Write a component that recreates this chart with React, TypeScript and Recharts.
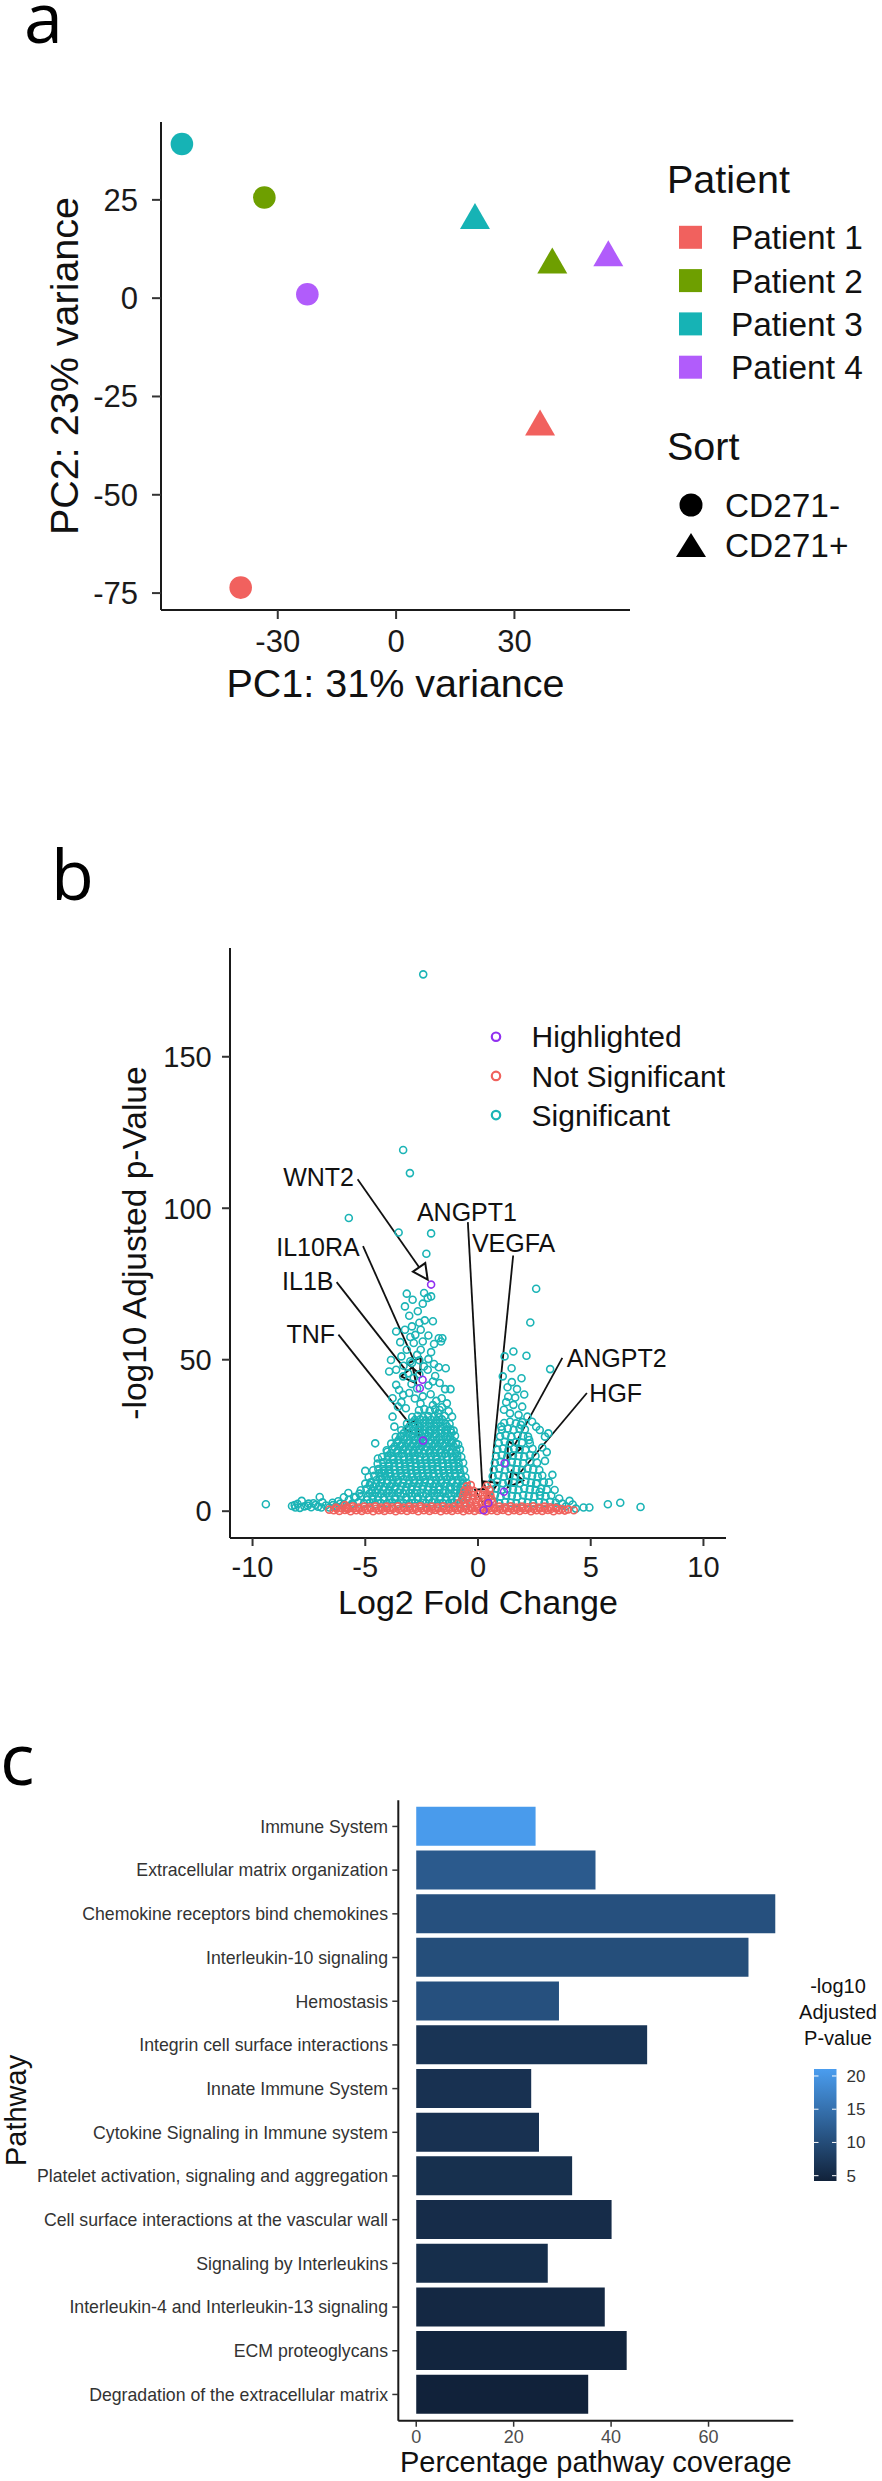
import React from "react";
import {
  ScatterChart,
  Scatter,
  BarChart,
  Bar,
  Cell,
  XAxis,
  YAxis,
  Legend,
  ReferenceLine,
  ReferenceDot,
} from "recharts";

const FONT = '"Liberation Sans", Arial, sans-serif';
const LETTER_FONT = '"Open Sans", sans-serif';

// ---------- a: PCA ----------
const patients = ["Patient 1", "Patient 2", "Patient 3", "Patient 4"];
const patientColors = ["#F1615E", "#6E9F00", "#16B3B5", "#B15CFB"];
const sorts = ["CD271-", "CD271+"];
const pc1Neg = [-39.4, -33.4, -54.3, -22.5];
const pc2Neg = [-73.6, 25.6, 39.2, 1.0];
const pc1Pos = [36.5, 39.6, 20.0, 53.8];
const pc2Pos = [-32.7, 8.5, 19.8, 10.3];
const pcaXTicks = [-30, 0, 30];
const pcaYTicks = [-75, -50, -25, 0, 25];

// ---------- b: volcano ----------
const volcanoXTicks = [-10, -5, 0, 5, 10];
const volcanoYTicks = [0, 50, 100, 150];
const groups = ["Highlighted", "Not Significant", "Significant"];
const groupColors = ["#9130F0", "#F0625D", "#1BB4B6"];

// significant genes, sparse ones (log2FC, -log10 padj)
const sigSparse = [
  [-2.43, 177.2], [-3.32, 119.2], [-3.02, 111.6], [-5.73, 96.8], [-3.52, 92.0], [-2.08, 91.7], [-2.29, 85.0],
  [-3.16, 71.8], [-2.39, 72.0], [-2.08, 70.9], [-2.23, 70.4], [-3.24, 67.6], [-2.67, 66.0], [-2.36, 63.0],
  [-2.0, 62.7], [-3.63, 59.3], [-3.24, 59.9], [-2.93, 61.0], [-2.54, 59.9], [-2.78, 58.2], [-1.74, 57.1],
  [-1.58, 57.1], [-1.64, 56.0], [-2.54, 53.3], [-2.08, 52.5], [-3.16, 53.3], [-3.4, 51.1], [-3.86, 49.9],
  [-2.7, 51.6], [-2.93, 48.9], [-1.74, 47.5], [-1.43, 47.2], [-3.63, 46.7], [-3.94, 46.1], [-3.32, 44.5],
  [-2.23, 46.7], [-2.0, 42.8], [-1.46, 40.3], [-1.22, 40.3], [-3.63, 41.7], [-3.32, 38.4], [-3.79, 37.3],
  [-1.61, 37.3], [-1.38, 35.6], [-1.15, 31.2], [-1.77, 32.3], [-3.79, 31.2], [-3.55, 34.5], [-3.71, 27.9],
  [-3.44, 24.6], [-3.1, 45.5], [-2.85, 44.0], [-2.6, 45.2], [-2.4, 47.8], [-2.95, 42.0], [-2.7, 40.5],
  [-2.2, 41.5], [-1.9, 44.6], [-1.7, 42.3], [-3.5, 40.0], [-3.05, 39.0], [-2.8, 37.2], [-2.45, 37.9],
  [-2.1, 38.6], [-1.85, 36.4], [-3.4, 36.0], [-3.2, 34.0], [-2.55, 35.5], [-2.0, 35.0], [-1.6, 34.3],
  [-1.3, 33.0], [-3.0, 49.5], [-2.6, 49.8], [-2.2, 50.2], [-1.95, 48.6], [-3.3, 48.0], [-2.85, 55.5],
  [-2.45, 56.0], [-3.0, 57.5], [-2.2, 58.0], [-1.95, 55.2], [-3.45, 55.8], [-2.6, 62.2], [-3.05, 64.5],
  [-2.45, 68.5], [-2.9, 69.8],
  [-4.56, 22.4], [-4.02, 19.6], [-4.44, 17.4], [-5.0, 13.3], [-4.28, 12.7], [-3.94, 12.7], [-4.8, 8.6],
  [-5.26, 5.8], [-5.49, 4.7], [-5.73, 3.8], [-6.11, 2.5], [-6.43, 2.0], [-7.02, 4.7], [-7.51, 2.5],
  [-7.82, 3.4], [-8.13, 2.0], [-9.41, 2.3], [-8.25, 1.7], [-8.0, 2.4], [-7.7, 1.6], [-7.4, 1.3], [-7.2, 2.1],
  [-6.95, 1.2], [-6.75, 1.9], [-6.6, 1.2], [-6.3, 1.6], [-6.0, 1.9], [-5.85, 1.1], [-5.6, 2.4], [-7.9, 1.1],
  [-7.55, 1.8], [-6.9, 2.9], [-6.45, 2.8], [-8.1, 1.2], [-7.3, 2.6], [-7.1, 1.5], [-6.2, 3.3], [-5.95, 4.6],
  [-5.75, 6.0],
  [1.18, 51.1], [1.57, 52.7], [2.15, 51.3], [3.2, 46.9], [1.49, 47.2], [1.93, 43.9], [1.31, 40.9], [1.73, 40.3],
  [1.34, 37.8], [1.57, 35.1], [1.96, 34.5], [1.42, 32.3], [1.8, 31.8], [2.19, 31.2], [2.58, 27.9], [2.74, 26.8],
  [2.97, 24.6], [3.12, 25.7], [1.03, 27.9], [2.27, 23.5], [2.97, 16.6], [2.58, 9.1], [2.74, 6.4], [2.58, 73.4],
  [2.32, 62.3], [1.1, 44.5], [1.5, 42.6], [1.25, 36.0], [1.65, 37.5], [2.05, 38.5], [1.15, 33.5], [2.4, 29.5],
  [1.9, 28.5], [2.85, 21.0], [3.05, 19.5], [3.3, 12.0], [3.15, 9.5], [3.4, 7.0],
  [4.06, 3.4], [4.34, 0.85], [4.68, 1.2], [4.94, 1.2], [5.76, 2.3], [6.31, 2.8], [7.21, 1.4], [3.51, 1.4],
  [3.74, 2.5], [3.9, 1.6], [4.2, 2.2], [3.6, 4.2],
];

// dense mass of down-regulated significant genes
const sigLeftMass = [
  [-5.55, 2.4], [-5.3, 2.9], [-5.06, 2.5], [-4.8, 2.8], [-4.57, 2.3], [-4.3, 2.7], [-4.04, 2.5], [-3.8, 2.9],
  [-3.56, 2.4], [-3.3, 2.7], [-3.05, 2.5], [-2.8, 2.8], [-2.56, 2.3], [-2.3, 2.6], [-2.04, 2.9], [-1.8, 2.4],
  [-1.55, 2.7], [-1.3, 2.5], [-1.06, 2.8], [-0.8, 2.4], [-0.55, 2.7],
  [-5.42, 4.6], [-5.17, 5.0], [-4.92, 4.7], [-4.68, 5.1], [-4.43, 4.8], [-4.18, 4.5], [-3.93, 5.0], [-3.68, 4.7],
  [-3.43, 5.1], [-3.18, 4.6], [-2.93, 4.9], [-2.68, 4.7], [-2.43, 5.0], [-2.18, 4.6], [-1.93, 5.1], [-1.68, 4.8],
  [-1.43, 4.6], [-1.18, 5.0], [-0.93, 4.7], [-0.68, 5.1], [-0.46, 4.8],
  [-5.2, 6.9], [-4.95, 7.3], [-4.7, 6.8], [-4.45, 7.2], [-4.2, 7.0], [-3.95, 6.8], [-3.7, 7.3], [-3.45, 7.0],
  [-3.2, 6.8], [-2.95, 7.2], [-2.7, 6.9], [-2.45, 7.3], [-2.2, 7.0], [-1.95, 6.8], [-1.7, 7.2], [-1.45, 6.9],
  [-1.2, 7.3], [-0.95, 7.0], [-0.7, 6.8], [-0.47, 7.1],
  [-5.0, 9.1], [-4.76, 9.5], [-4.52, 9.0], [-4.28, 9.4], [-4.04, 9.2], [-3.8, 9.0], [-3.56, 9.5], [-3.32, 9.2],
  [-3.08, 9.0], [-2.84, 9.4], [-2.6, 9.1], [-2.36, 9.5], [-2.12, 9.2], [-1.88, 9.0], [-1.64, 9.4], [-1.4, 9.1],
  [-1.16, 9.5], [-0.92, 9.2], [-0.68, 9.0], [-0.5, 9.4],
  [-4.85, 11.3], [-4.6, 11.7], [-4.36, 11.2], [-4.12, 11.6], [-3.88, 11.4], [-3.64, 11.2], [-3.4, 11.7],
  [-3.16, 11.4], [-2.92, 11.2], [-2.68, 11.6], [-2.44, 11.3], [-2.2, 11.7], [-1.96, 11.4], [-1.72, 11.2],
  [-1.48, 11.6], [-1.24, 11.3], [-1.0, 11.7], [-0.76, 11.4], [-0.56, 11.2],
  [-4.65, 13.5], [-4.42, 13.9], [-4.18, 13.4], [-3.94, 13.8], [-3.7, 13.6], [-3.46, 13.4], [-3.22, 13.9],
  [-2.98, 13.6], [-2.74, 13.4], [-2.5, 13.8], [-2.26, 13.5], [-2.02, 13.9], [-1.78, 13.6], [-1.54, 13.4],
  [-1.3, 13.8], [-1.06, 13.5], [-0.82, 13.9], [-0.62, 13.6],
  [-4.45, 15.7], [-4.2, 16.1], [-3.96, 15.6], [-3.72, 16.0], [-3.48, 15.8], [-3.24, 15.6], [-3.0, 16.1],
  [-2.76, 15.8], [-2.52, 15.6], [-2.28, 16.0], [-2.04, 15.7], [-1.8, 16.1], [-1.56, 15.8], [-1.32, 15.6],
  [-1.08, 16.0], [-0.86, 15.7], [-0.66, 16.0],
  [-4.25, 17.9], [-4.0, 18.3], [-3.76, 17.8], [-3.52, 18.2], [-3.28, 18.0], [-3.04, 17.8], [-2.8, 18.3],
  [-2.56, 18.0], [-2.32, 17.8], [-2.08, 18.2], [-1.84, 17.9], [-1.6, 18.3], [-1.36, 18.0], [-1.12, 17.8],
  [-0.92, 18.2], [-0.74, 17.9],
  [-4.05, 20.1], [-3.8, 20.5], [-3.56, 20.0], [-3.32, 20.4], [-3.08, 20.2], [-2.84, 20.0], [-2.6, 20.5],
  [-2.36, 20.2], [-2.12, 20.0], [-1.88, 20.4], [-1.64, 20.1], [-1.4, 20.5], [-1.16, 20.2], [-0.96, 20.0],
  [-0.8, 20.4],
  [-3.85, 22.3], [-3.6, 22.7], [-3.36, 22.2], [-3.12, 22.6], [-2.88, 22.4], [-2.64, 22.2], [-2.4, 22.7],
  [-2.16, 22.4], [-1.92, 22.2], [-1.68, 22.6], [-1.44, 22.3], [-1.2, 22.7], [-0.98, 22.4], [-0.88, 22.0],
  [-3.65, 24.5], [-3.4, 24.9], [-3.16, 24.4], [-2.92, 24.8], [-2.68, 24.6], [-2.44, 24.4], [-2.2, 24.9],
  [-1.96, 24.6], [-1.72, 24.4], [-1.48, 24.8], [-1.24, 24.5], [-1.02, 24.9],
  [-3.4, 26.7], [-3.15, 27.1], [-2.9, 26.6], [-2.66, 27.0], [-2.42, 26.8], [-2.18, 26.6], [-1.94, 27.1],
  [-1.7, 26.8], [-1.46, 26.6], [-1.22, 27.0], [-1.08, 26.6],
  [-3.15, 28.9], [-2.9, 29.3], [-2.66, 28.8], [-2.42, 29.2], [-2.18, 29.0], [-1.94, 28.8], [-1.7, 29.3],
  [-1.46, 29.0], [-1.26, 28.8],
  [-2.92, 31.1], [-2.68, 31.5], [-2.44, 31.0], [-2.2, 31.4], [-1.96, 31.2], [-1.72, 31.0], [-1.48, 31.4],
  [-2.62, 33.3], [-2.38, 33.7], [-2.14, 33.2], [-1.9, 33.6], [-1.7, 33.4],
];

// the solid core of the down-regulated mass (sits between the rows above)
const sigLeftCore = [
  [-4.92, 3.7], [-4.67, 3.9], [-4.43, 3.6], [-4.18, 3.8], [-3.93, 3.7], [-3.68, 3.9], [-3.43, 3.6], [-3.18, 3.8],
  [-2.93, 3.7], [-2.68, 3.9], [-2.43, 3.6], [-2.18, 3.8], [-1.93, 3.7], [-1.68, 3.9], [-1.43, 3.6], [-1.18, 3.8],
  [-0.93, 3.7], [-0.68, 3.9],
  [-4.8, 5.9], [-4.55, 6.1], [-4.3, 5.8], [-4.05, 6.0], [-3.8, 5.9], [-3.55, 6.1], [-3.3, 5.8], [-3.05, 6.0],
  [-2.8, 5.9], [-2.55, 6.1], [-2.3, 5.8], [-2.05, 6.0], [-1.8, 5.9], [-1.55, 6.1], [-1.3, 5.8], [-1.05, 6.0],
  [-0.8, 5.9], [-0.58, 6.1],
  [-4.62, 8.1], [-4.38, 8.3], [-4.14, 8.0], [-3.9, 8.2], [-3.66, 8.1], [-3.42, 8.3], [-3.18, 8.0], [-2.94, 8.2],
  [-2.7, 8.1], [-2.46, 8.3], [-2.22, 8.0], [-1.98, 8.2], [-1.74, 8.1], [-1.5, 8.3], [-1.26, 8.0], [-1.02, 8.2],
  [-0.78, 8.1], [-0.6, 8.3],
  [-4.5, 10.3], [-4.26, 10.5], [-4.02, 10.2], [-3.78, 10.4], [-3.54, 10.3], [-3.3, 10.5], [-3.06, 10.2],
  [-2.82, 10.4], [-2.58, 10.3], [-2.34, 10.5], [-2.1, 10.2], [-1.86, 10.4], [-1.62, 10.3], [-1.38, 10.5],
  [-1.14, 10.2], [-0.9, 10.4], [-0.68, 10.3],
  [-4.38, 12.5], [-4.14, 12.7], [-3.9, 12.4], [-3.66, 12.6], [-3.42, 12.5], [-3.18, 12.7], [-2.94, 12.4],
  [-2.7, 12.6], [-2.46, 12.5], [-2.22, 12.7], [-1.98, 12.4], [-1.74, 12.6], [-1.5, 12.5], [-1.26, 12.7],
  [-1.02, 12.4], [-0.78, 12.6],
  [-4.2, 14.7], [-3.96, 14.9], [-3.72, 14.6], [-3.48, 14.8], [-3.24, 14.7], [-3.0, 14.9], [-2.76, 14.6],
  [-2.52, 14.8], [-2.28, 14.7], [-2.04, 14.9], [-1.8, 14.6], [-1.56, 14.8], [-1.32, 14.7], [-1.08, 14.9],
  [-0.86, 14.6],
  [-4.02, 16.9], [-3.78, 17.1], [-3.54, 16.8], [-3.3, 17.0], [-3.06, 16.9], [-2.82, 17.1], [-2.58, 16.8],
  [-2.34, 17.0], [-2.1, 16.9], [-1.86, 17.1], [-1.62, 16.8], [-1.38, 17.0], [-1.14, 16.9], [-0.92, 17.1],
  [-3.86, 19.1], [-3.62, 19.3], [-3.38, 19.0], [-3.14, 19.2], [-2.9, 19.1], [-2.66, 19.3], [-2.42, 19.0],
  [-2.18, 19.2], [-1.94, 19.1], [-1.7, 19.3], [-1.46, 19.0], [-1.22, 19.2], [-1.0, 19.1],
  [-3.7, 21.3], [-3.46, 21.5], [-3.22, 21.2], [-2.98, 21.4], [-2.74, 21.3], [-2.5, 21.5], [-2.26, 21.2],
  [-2.02, 21.4], [-1.78, 21.3], [-1.54, 21.5], [-1.3, 21.2], [-1.08, 21.4],
  [-3.52, 23.5], [-3.28, 23.7], [-3.04, 23.4], [-2.8, 23.6], [-2.56, 23.5], [-2.32, 23.7], [-2.08, 23.4],
  [-1.84, 23.6], [-1.6, 23.5], [-1.36, 23.7], [-1.14, 23.4],
  [-3.3, 25.7], [-3.06, 25.9], [-2.82, 25.6], [-2.58, 25.8], [-2.34, 25.7], [-2.1, 25.9], [-1.86, 25.6],
  [-1.62, 25.8], [-1.38, 25.7], [-1.18, 25.9],
  [-3.04, 27.9], [-2.8, 28.1], [-2.56, 27.8], [-2.32, 28.0], [-2.08, 27.9], [-1.84, 28.1], [-1.6, 27.8],
  [-1.38, 28.0],
  [-2.8, 30.1], [-2.56, 30.3], [-2.32, 30.0], [-2.08, 30.2], [-1.84, 30.1], [-1.6, 30.3],
];

// dense mass of up-regulated significant genes
const sigRightMass = [
  [0.45, 2.7], [0.7, 3.1], [0.95, 2.6], [1.2, 3.0], [1.45, 2.8], [1.7, 2.6], [1.95, 3.1], [2.2, 2.8],
  [2.45, 2.6], [2.7, 3.0], [2.95, 2.7], [3.2, 3.1], [3.45, 2.8],
  [0.5, 4.9], [0.75, 5.3], [1.0, 4.8], [1.25, 5.2], [1.5, 5.0], [1.75, 4.8], [2.0, 5.3], [2.25, 5.0],
  [2.5, 4.8], [2.75, 5.2], [3.0, 4.9], [3.25, 5.2],
  [0.55, 7.1], [0.8, 7.5], [1.05, 7.0], [1.3, 7.4], [1.55, 7.2], [1.8, 7.0], [2.05, 7.5], [2.3, 7.2],
  [2.55, 7.0], [2.8, 7.4], [3.05, 7.1],
  [0.6, 9.3], [0.85, 9.7], [1.1, 9.2], [1.35, 9.6], [1.6, 9.4], [1.85, 9.2], [2.1, 9.7], [2.35, 9.4],
  [2.6, 9.2], [2.92, 9.6],
  [0.65, 11.5], [0.9, 11.9], [1.15, 11.4], [1.4, 11.8], [1.65, 11.6], [1.9, 11.4], [2.15, 11.9], [2.4, 11.6],
  [2.65, 11.4], [2.85, 11.8],
  [0.7, 13.7], [0.95, 14.1], [1.2, 13.6], [1.45, 14.0], [1.7, 13.8], [1.95, 13.6], [2.2, 14.1], [2.45, 13.8],
  [2.72, 13.6],
  [0.75, 15.9], [1.0, 16.3], [1.25, 15.8], [1.5, 16.2], [1.75, 16.0], [2.0, 15.8], [2.3, 16.3], [2.62, 16.0],
  [0.8, 18.1], [1.05, 18.5], [1.3, 18.0], [1.55, 18.4], [1.8, 18.2], [2.05, 18.0], [2.3, 18.5], [2.55, 18.2],
  [0.86, 20.3], [1.1, 20.7], [1.35, 20.2], [1.6, 20.6], [1.85, 20.4], [2.1, 20.2], [2.42, 20.6],
  [0.92, 22.5], [1.18, 22.9], [1.42, 22.4], [1.68, 22.8], [1.95, 22.6], [2.3, 22.4],
  [0.98, 24.7], [1.22, 25.1], [1.48, 24.6], [1.75, 25.0], [2.0, 24.8], [2.22, 24.6],
  [1.06, 26.9], [1.32, 27.3], [1.58, 26.8], [1.84, 27.2], [2.08, 27.0],
  [1.16, 29.1], [1.42, 29.5], [1.68, 29.0], [1.96, 29.4],
];

// not significant genes (red band near zero)
const notSig = [
  [-6.4, 0.3], [-6.15, 0.1], [-5.9, 0.4], [-5.65, 0.0], [-5.4, 0.3], [-5.15, 0.1], [-4.9, 0.4], [-4.65, 0.0],
  [-4.4, 0.3], [-4.15, 0.1], [-3.9, 0.4], [-3.65, 0.0], [-3.4, 0.3], [-3.15, 0.1], [-2.9, 0.4], [-2.65, 0.0],
  [-2.4, 0.3], [-2.15, 0.1], [-1.9, 0.4], [-1.65, 0.0], [-1.4, 0.3], [-1.15, 0.1], [-0.9, 0.4], [-0.65, 0.0],
  [-0.4, 0.3], [-0.15, 0.1], [0.1, 0.4], [0.35, 0.0], [0.6, 0.3], [0.85, 0.1], [1.1, 0.4], [1.35, 0.0],
  [1.6, 0.3], [1.85, 0.1], [2.1, 0.4], [2.35, 0.0], [2.6, 0.3], [2.85, 0.1], [3.1, 0.4], [3.35, 0.0],
  [3.6, 0.3], [3.85, 0.2],
  [-6.27, 0.8], [-6.02, 0.9], [-5.77, 0.7], [-5.52, 0.9], [-5.27, 0.8], [-5.02, 0.7], [-4.77, 0.9], [-4.52, 0.8],
  [-4.27, 0.7], [-4.02, 0.9], [-3.77, 0.8], [-3.52, 0.7], [-3.27, 0.9], [-3.02, 0.8], [-2.77, 0.7], [-2.52, 0.9],
  [-2.27, 0.8], [-2.02, 0.7], [-1.77, 0.9], [-1.52, 0.8], [-1.27, 0.7], [-1.02, 0.9], [-0.77, 0.8], [-0.52, 0.7],
  [-0.27, 0.9], [-0.02, 0.8], [0.23, 0.7], [0.48, 0.9], [0.73, 0.8], [0.98, 0.7], [1.23, 0.9], [1.48, 0.8],
  [1.73, 0.7], [1.98, 0.9], [2.23, 0.8], [2.48, 0.7], [2.73, 0.9], [2.98, 0.8], [3.23, 0.7], [3.48, 0.9],
  [3.72, 0.7],
  [-5.8, 1.3], [-5.55, 1.6], [-5.3, 1.2], [-5.05, 1.5], [-4.8, 1.3], [-4.55, 1.6], [-4.3, 1.2], [-4.05, 1.5],
  [-3.8, 1.3], [-3.55, 1.6], [-3.3, 1.2], [-3.05, 1.5], [-2.8, 1.3], [-2.55, 1.6], [-2.3, 1.2], [-2.05, 1.5],
  [-1.8, 1.3], [-1.55, 1.6], [-1.3, 1.2], [-1.05, 1.5], [-0.8, 1.3], [-0.55, 1.6], [-0.3, 1.2], [-0.05, 1.5],
  [0.2, 1.3], [0.45, 1.6], [0.7, 1.2], [0.95, 1.5], [1.2, 1.3], [1.45, 1.6], [1.7, 1.2], [1.95, 1.5],
  [2.2, 1.3], [2.45, 1.6], [2.7, 1.2], [2.95, 1.5], [3.2, 1.3], [3.45, 1.1],
  [-0.85, 2.7], [-0.6, 2.9], [-0.35, 2.7], [-0.1, 2.9], [0.15, 2.6], [0.4, 2.9], [0.65, 2.7],
  [-0.7, 4.0], [-0.48, 4.3], [-0.24, 3.9], [0.0, 4.2], [0.24, 4.0], [0.45, 4.3], [0.6, 3.9],
  [-0.65, 5.4], [-0.44, 5.7], [-0.22, 5.3], [0.0, 5.6], [0.2, 5.4], [0.4, 5.7], [0.55, 5.3],
  [-0.6, 6.8], [-0.4, 7.1], [-0.2, 6.7], [0.28, 6.9], [0.5, 7.1],
  [-0.5, 8.2], [-0.32, 8.6], [0.4, 8.4],
  [-6.3, 1.2], [-5.8, 0.9], [-6.6, 0.5], [4.0, 0.6], [4.25, 0.3], [-5.9, 2.0],
];

// highlighted genes and their repelled labels
const geneNames = ["WNT2", "ANGPT1", "VEGFA", "IL10RA", "IL1B", "TNF", "ANGPT2", "HGF"];
const geneLfc = [-2.08, 0.25, 0.46, -2.46, -2.58, -2.44, 1.18, 1.15];
const genePadj = [74.8, 0.3, 2.7, 43.4, 40.6, 23.3, 15.8, 6.4];
const labelLfc = [-7.07, -0.49, 1.58, -7.1, -7.55, -7.42, 6.15, 6.11];
const labelPadj = [110.2, 98.6, 88.4, 87.3, 75.9, 58.3, 50.6, 39.0];
const segLfc = [-5.34, -0.45, 1.56, -5.1, -6.27, -6.19, 3.74, 4.83];
const segPadj = [109.6, 95.4, 84.4, 87.5, 75.6, 58.3, 50.6, 39.0];

// ---------- c: pathways ----------
const pathways = [
  "Immune System",
  "Extracellular matrix organization",
  "Chemokine receptors bind chemokines",
  "Interleukin-10 signaling",
  "Hemostasis",
  "Integrin cell surface interactions",
  "Innate Immune System",
  "Cytokine Signaling in Immune system",
  "Platelet activation, signaling and aggregation",
  "Cell surface interactions at the vascular wall",
  "Signaling by Interleukins",
  "Interleukin-4 and Interleukin-13 signaling",
  "ECM proteoglycans",
  "Degradation of the extracellular matrix",
];
const coverage = [24.5, 36.8, 73.7, 68.2, 29.3, 47.4, 23.6, 25.2, 32.0, 40.1, 27.0, 38.7, 43.2, 35.3];
const negLogPadj = [20.8, 11.9, 10.5, 10.2, 10.5, 6.7, 6.3, 6.3, 6.1, 5.6, 5.8, 5.0, 4.6, 4.2];
const coverageTicks = [0, 20, 40, 60];
const padjBreaks = [5, 10, 15, 20];
const padjMin = 4.2;
const padjMax = 21.05;
const lowRgb = [17, 34, 58];
const highRgb = [74, 157, 239];

function padjColor(v: number) {
  const t = Math.max(0, Math.min(1, (v - padjMin) / (padjMax - padjMin)));
  const c = lowRgb.map((l, i) => Math.round(l + (highRgb[i] - l) * t));
  return `rgb(${c[0]},${c[1]},${c[2]})`;
}

const toXY = (arr: number[][]) => arr.map(([x, y]) => ({ x, y }));

// ---------- markers ----------
function PcaMarker(props: any) {
  const { cx, cy, fill, payload } = props;
  if (payload.sort === "CD271+") {
    const r = 17.3;
    const pts = `${cx},${cy - r} ${cx + 0.866 * r},${cy + r / 2} ${cx - 0.866 * r},${cy + r / 2}`;
    return <polygon points={pts} fill={fill} />;
  }
  return <circle cx={cx} cy={cy} r={11.3} fill={fill} />;
}

const ring = (color: string) => (props: any) => (
  <circle cx={props.cx} cy={props.cy} r={3.5} fill="none" stroke={color} strokeWidth={1.6} />
);

function GeneArrow(props: any) {
  const { x1, y1, x2, y2 } = props;
  const dx = x2 - x1;
  const dy = y2 - y1;
  const len = Math.hypot(dx, dy) || 1;
  const ux = dx / len;
  const uy = dy / len;
  const tipX = x2 - ux * 6;
  const tipY = y2 - uy * 6;
  const bx = tipX - ux * 15;
  const by = tipY - uy * 15;
  const half = 7.5;
  const pts = `${tipX},${tipY} ${bx - uy * half},${by + ux * half} ${bx + uy * half},${by - ux * half}`;
  return (
    <g>
      <line x1={x1} y1={y1} x2={bx} y2={by} stroke="#111" strokeWidth={1.8} />
      <polygon points={pts} fill="#fff" stroke="#111" strokeWidth={2} />
    </g>
  );
}

// ---------- legends (drawn as overlays) ----------
function PcaLegend() {
  return (
    <svg width={882} height={720} style={{ display: "block", fontFamily: FONT }}>
      <text x={24} y={42.5} fontFamily={LETTER_FONT} fontSize={70} fill="#000">a</text>
      <text x={667} y={192.7} fontSize={39.5} fill="#111">Patient</text>
      {patients.map((p, i) => {
        const cy = 237.3 + i * 43.3;
        return (
          <g key={p}>
            <rect x={679} y={cy - 11.5} width={23} height={23} fill={patientColors[i]} />
            <text x={731} y={cy + 12} fontSize={33.4} fill="#111">{p}</text>
          </g>
        );
      })}
      <text x={667} y={460} fontSize={39.5} fill="#111">Sort</text>
      <circle cx={691} cy={505} r={11.5} fill="#000" />
      <polygon points="691,533 706,557 676,557" fill="#000" />
      <text x={725} y={517} fontSize={33.4} fill="#111">{sorts[0]}</text>
      <text x={725} y={557} fontSize={33.4} fill="#111">{sorts[1]}</text>
    </svg>
  );
}

function VolcanoLegend() {
  return (
    <svg width={882} height={860} style={{ display: "block", fontFamily: FONT }}>
      <text x={51} y={120} fontFamily={LETTER_FONT} fontSize={70} fill="#000">b</text>
      {groups.map((g, i) => {
        const cy = 256.7 + i * 39.2;
        return (
          <g key={g}>
            <circle cx={496} cy={cy} r={4.2} fill="none" stroke={groupColors[i]} strokeWidth={2.2} />
            <text x={531.6} y={cy + 10.7} fontSize={30} fill="#111">{g}</text>
          </g>
        );
      })}
    </svg>
  );
}

function PathwayLegend() {
  const barTop = 449;
  const barH = 112;
  const yOf = (v: number) => barTop + barH - ((v - padjMin) / (padjMax - padjMin)) * barH;
  return (
    <svg width={882} height={861} style={{ display: "block", fontFamily: FONT }}>
      <defs>
        <linearGradient id="padjGrad" x1="0" y1="1" x2="0" y2="0">
          <stop offset="0%" stopColor={padjColor(padjMin)} />
          <stop offset="100%" stopColor={padjColor(padjMax)} />
        </linearGradient>
      </defs>
      <text x={0} y={165} fontFamily={LETTER_FONT} fontSize={72} fill="#000">c</text>
      <text x={838} y={373} fontSize={20} fill="#111" textAnchor="middle">-log10</text>
      <text x={838} y={398.7} fontSize={20} fill="#111" textAnchor="middle">Adjusted</text>
      <text x={838} y={425} fontSize={20} fill="#111" textAnchor="middle">P-value</text>
      <rect x={814} y={barTop} width={22.5} height={barH} fill="url(#padjGrad)" />
      {padjBreaks.map((b) => (
        <g key={b}>
          <line x1={814} x2={818.5} y1={yOf(b)} y2={yOf(b)} stroke="#fff" strokeWidth={1} />
          <line x1={832} x2={836.5} y1={yOf(b)} y2={yOf(b)} stroke="#fff" strokeWidth={1} />
          <text x={846.5} y={yOf(b) + 6} fontSize={17} fill="#333">{b}</text>
        </g>
      ))}
    </svg>
  );
}

// ---------- panels ----------
function PcaPanel() {
  const axisLine = { stroke: "#1a1a1a", strokeWidth: 2 };
  const tickLine = { stroke: "#333", strokeWidth: 2 };
  return (
    <ScatterChart width={882} height={720} margin={{ top: 122, right: 252, bottom: 0, left: 0 }}>
      <XAxis
        type="number"
        dataKey="x"
        domain={[-59.6, 59.3]}
        ticks={pcaXTicks}
        interval={0}
        allowDataOverflow
        height={110}
        tickSize={9}
        tickMargin={11}
        axisLine={axisLine}
        tickLine={tickLine}
        tick={{ fontSize: 31, fill: "#1a1a1a", fontFamily: FONT }}
        label={{ value: "PC1: 31% variance", position: "insideBottom", offset: 23.3, fontSize: 39.5, fill: "#111", fontFamily: FONT }}
      />
      <YAxis
        type="number"
        dataKey="y"
        domain={[-79.3, 44.8]}
        ticks={pcaYTicks}
        interval={0}
        allowDataOverflow
        width={161}
        tickSize={9}
        tickMargin={14}
        axisLine={axisLine}
        tickLine={tickLine}
        tick={{ fontSize: 31, fill: "#1a1a1a", fontFamily: FONT }}
        label={{ value: "PC2: 23% variance", angle: -90, position: "insideLeft", offset: 64, fontSize: 39.5, fill: "#111", fontFamily: FONT, style: { textAnchor: "middle" } }}
      />
      {patients.map((p, i) => (
        <Scatter
          key={p}
          name={p}
          data={[
            { x: pc1Neg[i], y: pc2Neg[i], sort: sorts[0] },
            { x: pc1Pos[i], y: pc2Pos[i], sort: sorts[1] },
          ]}
          fill={patientColors[i]}
          shape={PcaMarker}
          isAnimationActive={false}
        />
      ))}
      <Legend
        layout="vertical"
        align="center"
        verticalAlign="middle"
        wrapperStyle={{ left: 0, top: 0, width: 882, height: 720, pointerEvents: "none" }}
        content={() => <PcaLegend />}
      />
    </ScatterChart>
  );
}

function VolcanoPanel() {
  const axisLine = { stroke: "#1a1a1a", strokeWidth: 2 };
  const tickLine = { stroke: "#333", strokeWidth: 2 };
  const sigData = toXY([...sigSparse, ...sigLeftMass, ...sigLeftCore, ...sigRightMass]);
  const nsData = toXY(notSig);
  const hiData = geneNames.map((g, i) => ({ x: geneLfc[i], y: genePadj[i], gene: g }));
  return (
    <ScatterChart width={882} height={860} margin={{ top: 168, right: 156, bottom: 0, left: 0 }}>
      <XAxis
        type="number"
        dataKey="x"
        domain={[-11, 11]}
        ticks={volcanoXTicks}
        interval={0}
        allowDataOverflow
        height={102}
        tickSize={8}
        tickMargin={10.7}
        axisLine={axisLine}
        tickLine={tickLine}
        tick={{ fontSize: 29, fill: "#1a1a1a", fontFamily: FONT }}
        label={{ value: "Log2 Fold Change", position: "insideBottom", offset: 26, fontSize: 34, fill: "#111", fontFamily: FONT }}
      />
      <YAxis
        type="number"
        dataKey="y"
        domain={[-8.85, 185.9]}
        ticks={volcanoYTicks}
        interval={0}
        allowDataOverflow
        width={230}
        tickSize={8}
        tickMargin={10.3}
        axisLine={axisLine}
        tickLine={tickLine}
        tick={{ fontSize: 29, fill: "#1a1a1a", fontFamily: FONT }}
        label={{ value: "-log10 Adjusted p-Value", angle: -90, position: "insideLeft", offset: 134.5, fontSize: 33.5, fill: "#111", fontFamily: FONT, style: { textAnchor: "middle" } }}
      />
      <Scatter name="Significant" data={sigData} shape={ring(groupColors[2])} isAnimationActive={false} />
      <Scatter name="Not Significant" data={nsData} shape={ring(groupColors[1])} isAnimationActive={false} />
      <Scatter name="Highlighted" data={hiData} shape={ring(groupColors[0])} isAnimationActive={false} />
      {geneNames.map((g, i) => (
        <ReferenceLine
          key={`seg-${g}`}
          segment={[
            { x: segLfc[i], y: segPadj[i] },
            { x: geneLfc[i], y: genePadj[i] },
          ]}
          ifOverflow="visible"
          shape={GeneArrow}
        />
      ))}
      {geneNames.map((g, i) => (
        <ReferenceDot
          key={`lab-${g}`}
          x={labelLfc[i]}
          y={labelPadj[i]}
          r={0}
          fill="none"
          stroke="none"
          ifOverflow="visible"
          label={{ value: g, position: "center", fontSize: 25, fill: "#111", fontFamily: FONT }}
        />
      ))}
      <Legend
        layout="vertical"
        align="center"
        verticalAlign="middle"
        wrapperStyle={{ left: 0, top: 0, width: 882, height: 860, pointerEvents: "none" }}
        content={() => <VolcanoLegend />}
      />
    </ScatterChart>
  );
}

function PathwayPanel() {
  const rows = pathways.map((p, i) => ({ pathway: p, coverage: coverage[i], padj: negLogPadj[i] }));
  const axisLine = { stroke: "#1a1a1a", strokeWidth: 2 };
  const tickLine = { stroke: "#333", strokeWidth: 1.5 };
  return (
    <BarChart
      layout="vertical"
      width={882}
      height={861}
      data={rows}
      margin={{ top: 180.2, right: 88.7, bottom: 0, left: 0 }}
      barCategoryGap="5%"
    >
      <XAxis
        type="number"
        domain={[-3.68, 77.4]}
        ticks={coverageTicks}
        interval={0}
        allowDataOverflow
        height={60.3}
        tickSize={6}
        tickMargin={3.3}
        axisLine={axisLine}
        tickLine={tickLine}
        tick={{ fontSize: 18, fill: "#4d4d4d", fontFamily: FONT }}
        label={{ value: "Percentage pathway coverage", position: "insideBottom", offset: 9.3, fontSize: 29, fill: "#111", fontFamily: FONT }}
      />
      <YAxis
        type="category"
        dataKey="pathway"
        width={398.3}
        interval={0}
        padding={{ top: 4.4, bottom: 4.4 }}
        tickSize={6}
        tickMargin={4.3}
        axisLine={axisLine}
        tickLine={tickLine}
        tick={{ fontSize: 17.7, fill: "#333", fontFamily: FONT }}
        label={{ value: "Pathway", angle: -90, position: "insideLeft", offset: 16, fontSize: 29, fill: "#111", fontFamily: FONT, style: { textAnchor: "middle" } }}
      />
      <Bar dataKey="coverage" isAnimationActive={false}>
        {rows.map((r) => (
          <Cell key={r.pathway} fill={padjColor(r.padj)} />
        ))}
      </Bar>
      <Legend
        layout="vertical"
        align="center"
        verticalAlign="middle"
        wrapperStyle={{ left: 0, top: 0, width: 882, height: 861, pointerEvents: "none" }}
        content={() => <PathwayLegend />}
      />
    </BarChart>
  );
}

export default function App() {
  return (
    <div style={{ position: "absolute", left: 0, top: 0, width: 882, height: 2481, background: "#fff", fontFamily: FONT }}>
      <div style={{ position: "absolute", left: 0, top: 0 }}>
        <PcaPanel />
      </div>
      <div style={{ position: "absolute", left: 0, top: 780 }}>
        <VolcanoPanel />
      </div>
      <div style={{ position: "absolute", left: 0, top: 1620 }}>
        <PathwayPanel />
      </div>
    </div>
  );
}
